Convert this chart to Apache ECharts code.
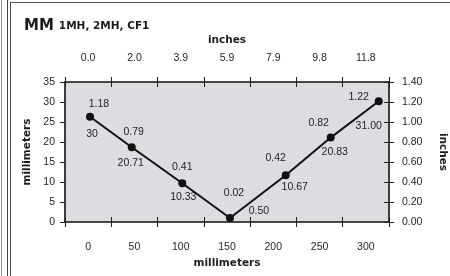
<!DOCTYPE html>
<html>
<head>
<meta charset="utf-8">
<script src="https://cdn.jsdelivr.net/npm/echarts@6/dist/echarts.min.js"></script>
<style>
html, body { margin: 0; padding: 0; background: #fff; }
#chart { width: 450px; height: 276px; }
</style>
</head>
<body>
<div id="chart"></div>
<script>
// axis tick labels
const mmTicks = ['0', '50', '100', '150', '200', '250', '300']
const inchTicks = ['0.0', '2.0', '3.9', '5.9', '7.9', '9.8', '11.8']

// plotted points (x in mm along the bottom scale, y in mm on the left scale)
const xPos = [2.0, 47.1, 101.7, 153.2, 213.4, 262.0, 313.9]
const yMm = [26.3, 18.7, 9.7, 1.0, 11.7, 21.1, 30.2]

// printed point labels
const inchLabels = ['1.18', '0.79', '0.41', '0.02', '0.42', '0.82', '1.22']
const mmLabels = ['30', '20.71', '10.33', '0.50', '10.67', '20.83', '31.00']

// label offsets in px, relative to each point
const upperOffsets = [[9, -13], [2, -15], [0, -16], [4, -25], [-10, -17], [-12, -14], [-20, -4]]
const lowerOffsets = [[2, 17], [-1, 16], [1, 14], [29, -7], [9, 12], [4, 15], [-10, 25]]

const FONT = "'Liberation Sans', sans-serif"
const BOLD_FONT = "'DejaVu Sans', sans-serif"
const TXT = '#1e1e1e'

const chart = echarts.init(document.getElementById('chart'))

const lineStyle = { color: '#111', width: 1.6 }
const tickOut = { show: true, inside: false, length: 5, lineStyle: { color: '#222', width: 1 } }
const tickIn = { show: true, inside: true, length: 5, lineStyle: { color: '#222', width: 1 } }
const labelStyle = { color: TXT, fontSize: 10.5, fontFamily: FONT }
const nameStyle = { color: TXT, fontSize: 10.5, fontWeight: 'bold', fontFamily: BOLD_FONT }

function ghostCat(position, data) {
  return {
    type: 'category', position, data,
    axisLine: { show: false, onZero: false }, axisLabel: { show: false },
    axisTick: tickIn, splitLine: { show: false },
  }
}

chart.setOption({
  animation: false,
  title: {
    left: 19, top: 12,
    text: '{a|MM} {b|1MH, 2MH, CF1}',
    textStyle: {
      rich: {
        a: { fontSize: 15, fontWeight: 'bold', color: '#1a1a1a', fontFamily: BOLD_FONT },
        b: { fontSize: 10.5, fontWeight: 'bold', color: '#1a1a1a', fontFamily: BOLD_FONT },
      },
    },
  },
  graphic: [
    { type: 'line', shape: { x1: 1.5, y1: 0, x2: 1.5, y2: 276 }, style: { stroke: '#999', lineWidth: 1 } },
    { type: 'line', shape: { x1: 7.5, y1: 0, x2: 7.5, y2: 276 }, style: { stroke: '#444', lineWidth: 1 } },
    { type: 'line', shape: { x1: 10.5, y1: 2, x2: 10.5, y2: 276 }, style: { stroke: '#444', lineWidth: 1 } },
    { type: 'line', shape: { x1: 10.5, y1: 2.5, x2: 450, y2: 2.5 }, style: { stroke: '#555', lineWidth: 1 } },
  ],
  grid: {
    left: 65, right: 61, top: 82, bottom: 54,
    outerBoundsMode: 'none', containLabel: false,
    show: true, backgroundColor: '#dcdde0', borderWidth: 0,
  },
  xAxis: [
    {
      type: 'category', position: 'bottom', data: mmTicks,
      axisLine: { onZero: false, lineStyle }, axisTick: tickOut,
      axisLabel: { ...labelStyle, margin: 20 },
      name: 'millimeters', nameLocation: 'middle', nameGap: 34, nameTextStyle: nameStyle,
    },
    {
      type: 'category', position: 'top', data: inchTicks,
      axisLine: { onZero: false, lineStyle }, axisTick: tickOut,
      axisLabel: { ...labelStyle, margin: 18 },
      name: 'inches', nameLocation: 'middle', nameGap: 36, nameTextStyle: nameStyle,
    },
    ghostCat('bottom', mmTicks),
    ghostCat('top', inchTicks),
    { type: 'value', position: 'bottom', min: -25, max: 325, show: false, axisLine: { onZero: false } },
  ],
  yAxis: [
    {
      type: 'value', position: 'left', min: 0, max: 35, interval: 5,
      axisLine: { show: true, onZero: false, lineStyle }, axisTick: tickOut,
      axisLabel: { ...labelStyle, margin: 10 },
      splitLine: { show: false },
      name: 'millimeters', nameLocation: 'middle', nameGap: 30, nameRotate: 90, nameTextStyle: nameStyle,
    },
    {
      type: 'value', position: 'right', min: 0, max: 1.4, interval: 0.2,
      axisLine: { show: true, onZero: false, lineStyle }, axisTick: tickOut,
      axisLabel: { ...labelStyle, margin: 13, formatter: v => v.toFixed(2) },
      splitLine: { show: false },
      name: 'inches', nameLocation: 'middle', nameGap: 48, nameRotate: -90, nameTextStyle: nameStyle,
    },
    {
      type: 'value', position: 'right', min: 0, max: 1.4, interval: 0.2,
      axisLine: { show: false, onZero: false }, axisLabel: { show: false },
      axisTick: tickIn, splitLine: { show: false },
    },
  ],
  series: [
    {
      type: 'line', xAxisIndex: 4, yAxisIndex: 0,
      symbol: 'circle', symbolSize: 8,
      lineStyle: { color: '#111', width: 2 },
      itemStyle: { color: '#111' },
      label: { show: true, position: 'inside', ...labelStyle },
      data: xPos.map((x, i) => ({
        value: [x, yMm[i]],
        label: { formatter: inchLabels[i], offset: upperOffsets[i] },
      })),
    },
    {
      type: 'scatter', xAxisIndex: 4, yAxisIndex: 0,
      symbolSize: 1, itemStyle: { color: 'rgba(0,0,0,0)', opacity: 1 },
      label: { show: true, position: 'inside', ...labelStyle },
      data: xPos.map((x, i) => ({
        value: [x, yMm[i]],
        label: { formatter: mmLabels[i], offset: lowerOffsets[i] },
      })),
    },
  ],
})
</script>
</body>
</html>
